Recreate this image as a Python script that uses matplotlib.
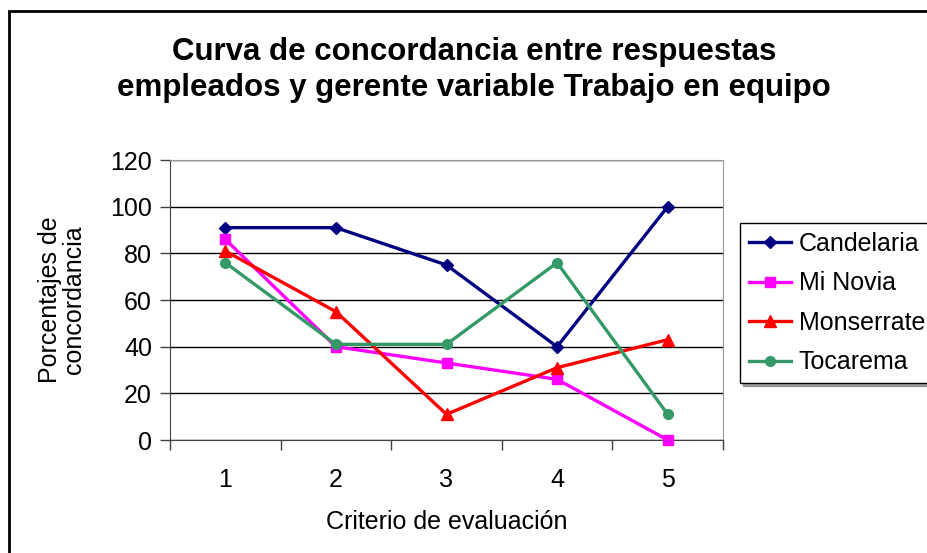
import matplotlib.pyplot as plt
from matplotlib.patches import Rectangle

# Data
criterios = [1, 2, 3, 4, 5]
candelaria = [91, 91, 75, 40, 100]
mi_novia = [86, 40, 33, 26, 0]
monserrate = [81, 55, 11, 31, 43]
tocarema = [76, 41, 41, 76, 11]

series = [
    ('Candelaria', candelaria, '#000080', 'D', 6),
    ('Mi Novia', mi_novia, '#FF00FF', 's', 7),
    ('Monserrate', monserrate, '#FF0000', '^', 8),
    ('Tocarema', tocarema, '#339966', 'o', 7),
]

plt.rcParams['font.family'] = ['Liberation Sans', 'DejaVu Sans']

fig = plt.figure(figsize=(9.28, 5.53), dpi=100)
ax = fig.add_axes([170 / 928, 1 - 440 / 553, (723 - 170) / 928, (440 - 160) / 553])

# outer chart border (cut off at right and bottom)
fig.patches.append(Rectangle((9 / 928, -0.1), 1.2, 1 - 11 / 553 + 0.1,
                             transform=fig.transFigure, fill=False,
                             edgecolor='black', linewidth=2, zorder=0))

for name, vals, color, marker, ms in series:
    ax.plot(criterios, vals, color=color, marker=marker, markersize=ms,
            linewidth=2.4, label=name, clip_on=False, zorder=3)

ax.set_xlim(0.5, 5.5)
ax.set_ylim(0, 120)
ax.set_yticks(range(0, 121, 20))
ax.set_xticks(criterios)
ax.set_xticks([0.5, 1.5, 2.5, 3.5, 4.5, 5.5], minor=True)
ax.tick_params(axis='x', which='major', length=0, labelsize=18, pad=20)
ax.tick_params(axis='x', which='minor', length=7, width=1, color='#404040', direction='out')
ax.tick_params(axis='y', length=7, width=1, color='#404040', labelsize=18, pad=6)

ax.grid(axis='y', color='black', linewidth=1)
ax.set_axisbelow(True)
for side in ['top', 'right']:
    ax.spines[side].set_color('#999999')
for side in ['left', 'bottom']:
    ax.spines[side].set_color('#404040')

ax.set_xlabel('Criterio de evaluación', fontsize=18, labelpad=13)
ax.set_ylabel('Porcentajes de\nconcordancia', fontsize=18, labelpad=17, linespacing=1.0)

fig.text(474 / 928, 1 - 70 / 553,
         'Curva de concordancia entre respuestas\nempleados y gerente variable Trabajo en equipo',
         ha='center', va='center', fontsize=22.5, fontweight='bold', linespacing=1.3)

leg = ax.legend(loc='upper left', bbox_to_anchor=(740 / 928, 1 - 223 / 553),
                bbox_transform=fig.transFigure, borderaxespad=0, fontsize=18,
                fancybox=False, shadow=True, edgecolor='black', framealpha=1,
                handlelength=1.7, handletextpad=0.3, labelspacing=0.62,
                borderpad=0.35)
leg.get_frame().set_linewidth(1)

fig.savefig('out.png', dpi=100)
